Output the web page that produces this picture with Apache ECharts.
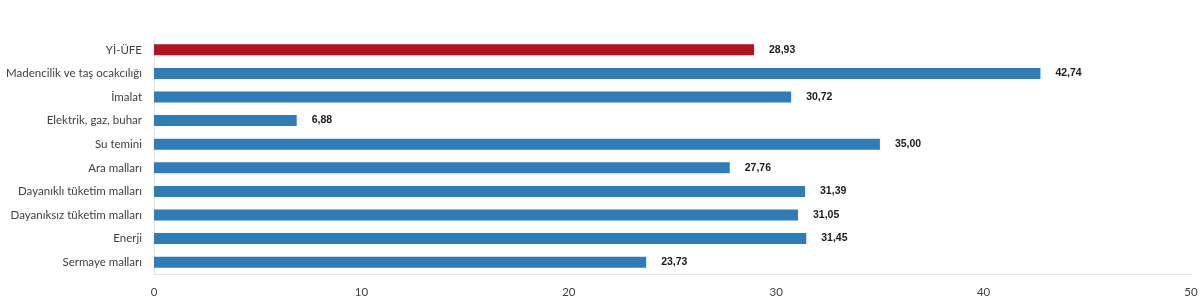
<!DOCTYPE html>
<html><head><meta charset="utf-8">
<script src="https://cdn.jsdelivr.net/npm/echarts@6/dist/echarts.min.js"></script>
<style>html,body{margin:0;padding:0;background:#fff}#c{width:1200px;height:302px}</style>
</head><body><div id="c"></div>
<script>
const categories = ["Yİ-ÜFE","Madencilik ve taş ocakcılığı","İmalat","Elektrik, gaz, buhar","Su temini","Ara malları","Dayanıklı tüketim malları","Dayanıksız tüketim malları","Enerji","Sermaye malları"];
const values = [28.93,42.74,30.72,6.88,35.00,27.76,31.39,31.05,31.45,23.73];
const highlightIndex = 0;
const xTicks = [0,10,20,30,40,50];

const chart = echarts.init(document.getElementById('c'));
chart.setOption({
  animation:false,
  grid:{left:154,right:9,top:38,bottom:28,containLabel:false,outerBoundsMode:'none'},
  xAxis:{type:'value',min:xTicks[0],max:xTicks[xTicks.length-1],interval:10,
    axisLine:{show:true,lineStyle:{color:'#e3e3e3'}},axisTick:{show:false},splitLine:{show:false},
    axisLabel:{color:'#404040',fontFamily:'Lato',fontSize:11.5,margin:12}},
  yAxis:{type:'category',inverse:true,data:categories,
    axisLine:{show:true,lineStyle:{color:'#e3e3e3'}},axisTick:{show:false},
    axisLabel:{color:'#404040',fontFamily:'Lato',fontSize:11.5,margin:12}},
  series:[{type:'bar',barWidth:11,
    data:values.map((v,i)=>({value:v,itemStyle:{color:i===highlightIndex?'#AF1420':'#2F7DB8'}})),
    label:{show:true,position:'right',distance:15,color:'#1a1a1a',fontWeight:'bold',fontFamily:'Liberation Sans',fontSize:10.5,
      formatter:p=>p.value.toFixed(2).replace('.',',')}}]
});
</script></body></html>
